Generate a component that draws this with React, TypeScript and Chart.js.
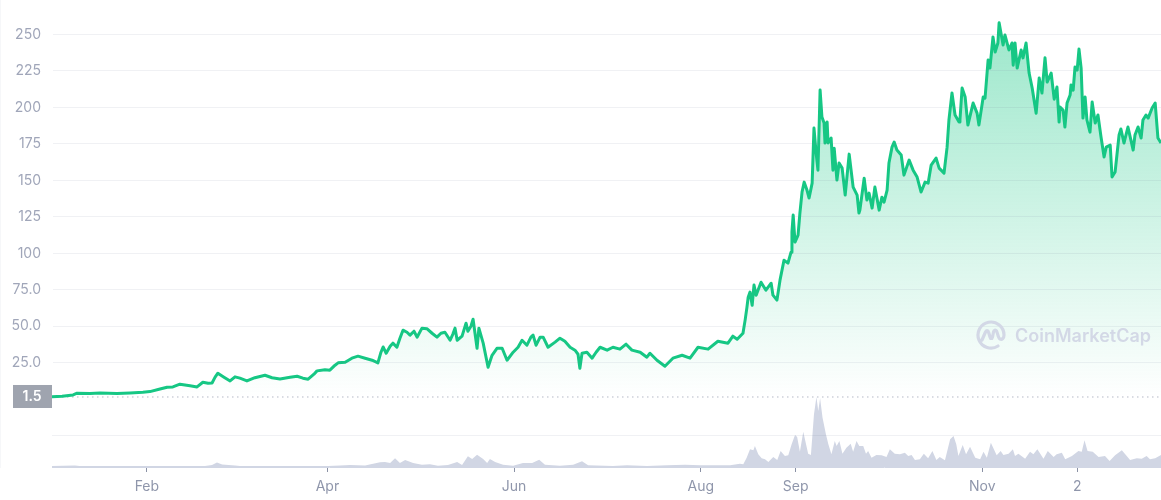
import React, { useEffect, useRef } from "react";
import { Chart, registerables } from "chart.js";

Chart.register(...registerables);

// Day of the year, and price in USD
const earlyDays = [0,3.3,6.9,8.2,12.4,15.7,21.2,25.5,29.7,32,35.3,37.6,39.5,41.8,45.1,47.4,49.3,51,52.3,53.3,54.2,56.2,58.2,59.8,61.4,63.7,66.3,69.6,71.9,74.5,77.8,80.1,82,83.7,85.6,86.6,89.2,90.8,92.5,93.5,95.8,98,100,102.3,104.6,106.5,107.5,108.2,109.2,110.5,111.4,112.7,113.7,114.7,116,117,118.3,119.3,120.9,122.5,124.2,125.8,127.1,128.4,130.1,131,131.7,132.4,134,135.3,135.9,136.9,137.6,138.9,139.5,140.9,142.5,143.8,145.4,147.1,148.7,150.7,152.3,153.6,155.2,156.5,157.2,158.2,159.5,160.5,162.1,164.4,166,167.6,169.3,170.9,171.9,172.5,173.2,174.8,176.5,177.8,179.1,181.4,183.3,185.6,187.6,189.5,192.2,194.4,195.4,197.7,200.3,202.9,205.9,208.5,211.1,214.4,217.6,220.9,222.5,223.9,225.8];
const earlyPrices = [1.7,2,2.9,4.1,3.9,4.3,3.9,4.3,4.8,5.2,7,8.2,8.4,10.3,9.2,8.4,11.6,10.9,11.1,15.1,17.8,15.1,12.5,15.3,14.4,12.5,14.7,16.4,14.7,13.9,15,15.7,14.4,13.7,17.1,19.4,20.2,19.9,23.3,24.9,25.3,28.1,29.5,28.1,26.7,24.9,32.2,35.8,31.5,36.3,38.4,35.6,41.8,47.3,45.9,43.9,46.6,42.5,48.7,48.3,45.2,42.5,45.2,45.9,40.4,44.6,48.7,40.4,43.2,52.1,46.6,50,54.8,34.9,48.7,38.4,21.9,30.1,34.9,34.9,26.7,32.2,35.6,40.4,37,42.5,43.9,37,42.5,42.5,35.6,39.1,41.8,39.7,35.6,33.6,30.8,21.2,31.5,32.2,28.1,32.2,35.6,33.6,35.6,34.3,37.7,33.6,32.2,28.8,31.5,26.7,22.6,28.1,30.1,28.1,35.6,34.3,39.7,38.4,43.2,41.1,45.2];
const lateDays = [226.5,227.1,227.5,228.1,228.8,229.4,230.1,231.7,233.3,235,235.6,236.9,237.9,239.2,240.5,241.5,241.8,242.2,242.8,243.8,244.4,245.1,245.8,246.7,247.4,248.4,249,249.7,250.3,251,251.6,252.3,252.6,253.3,253.6,254.6,255.2,255.6,256.5,257.2,258.2,259.2,260.5,261.8,263.1,263.7,264,265.4,266.3,267,268,268.9,270.3,271.2,271.9,272.9,273.5,274.5,275.2,276.1,277.5,278.4,280.1,281.4,282.7,284,285.3,286.3,287.3,288.9,289.9,291.5,292.5,293.1,294.1,295.1,296.4,296.7,297.4,298.4,299.3,301,302.3,302.9,304.3,304.9,305.9,306.5,307.5,308.2,309.1,309.5,310.8,311.4,312.7,313.7,314.1,314.7,315.4,316.7,317.3,318.3,319.3,320.3,321.6,322.6,323.5,324.5,325.2,326.5,327.5,328.4,329.1,329.4,330.4,331,331.7,332.7,333,333.7,334.3,335,335.6,336.3,336.9,337.6,338.2,339.2,339.9,340.9,341.8,342.8,343.8,344.5,345.8,346.4,347.4,348,348.7,349.3,350.3,351.6,353.3,353.9,354.9,355.9,356.5,357.5,358.2,359.5,360.5,361.4,362.4];
const latePrices = [54.2,63.1,69.9,73.4,64.4,78.2,71.3,80.2,74.7,79.5,71.3,67.9,81.6,95.3,93.3,100.8,114.5,126.2,107.7,112.5,127.6,142,148.8,143.4,137.9,148.1,185.9,168.7,157,211.9,193.4,189.3,175.6,190,175.6,179,157,172.1,150.2,161.9,158.4,139.9,168,145.4,139.9,127.6,129.6,151.5,136.5,141.3,131,145.4,129.6,138.5,135.1,143.4,161.9,172.8,176.3,170.8,167.4,153.6,163.9,157,152.3,142,148.8,148.1,160.5,165.3,158.4,155,172.8,191.4,209.9,194.8,190,191.4,213.3,207.1,187.9,203,196.1,187.9,207.1,206.4,232.5,227,248.3,238,244.2,258,242.8,249.7,239.4,244.2,229,244.2,227,239.4,234,244.2,223.6,213.3,196.1,220.2,209.9,234,217.4,223.6,205.7,214,190,200.3,198.2,186.6,203,208.5,215.4,211.9,227.7,225.6,240,227,192.7,207.1,191.4,183.1,203.7,189.3,194.8,179.7,166,172.8,174.2,152.3,155.7,167.4,181.1,185.2,175.6,186.6,170.8,181.1,186.6,179,191.4,194.8,192.7,199.6,203,179,175.6];

// Trading volume, in an arbitrary unit (hundreds of millions)
const volDays = [0,7.5,9,50,52.3,53.9,55.6,59.8,61.4,70.3,81,90.2,94.1,97.4,102.3,107.2,108.8,110.5,112.1,113.7,115.4,118,120.9,123.5,126.1,129.4,132.4,134,135.9,137.3,138.9,140.9,142.2,143.1,144.8,147.4,150.7,153.9,156.9,159.2,161.1,166,170.3,173.2,175.2,183.3,187.9,194.4,201,206.9,211.8,221.6,224.8,225.9,227,228.1,229.2,229.7,230.8,231.9,233,234.1,235.7,237,238.1,239.5,240.6,241.7,242.8,243.5,244.4,245.5,247.1,248,249,249.8,250.4,251,251.8,252.9,253.7,254.7,255.8,256.4,257.3,258.3,259.6,261,261.8,262.9,263.8,265.1,266,266.7,267.8,269.4,271.1,272.7,273.8,275.4,277.1,278.7,279.8,280.9,282,283.6,284.9,286.3,287.7,289,290.1,291.8,293.5,294.6,295.5,296.2,297.6,298.7,300,301.7,303.3,304.4,305.5,306.8,308.7,310,310.9,312.6,314,314.7,315.8,318,319.6,320.7,322,324,325.4,327.3,328.3,330,331.1,333.3,335.4,336.5,337.4,338.4,340.1,342,344.1,345.6,347.4,348.5,349.6,351.2,352.3,354.5,356.1,357.7,358.8,360.5,362.4];
const volValues = [1,1.5,1,1,2,4.5,2.5,1.5,1,1,1,1,1.5,2,1.5,4.7,5,4,8.7,4,7,4,2.3,2.7,1.3,2,5,2,10.7,8,12.3,8,4,8,5,2.3,1.3,4,4,7.3,2.3,1.3,2.3,5.7,1.7,1,1.7,1,1.7,2.3,1.7,1.7,3.3,2.7,9.3,17.7,16.7,21,12.7,8.7,7.7,5,10,7,16,11,11.7,22.7,32,30,15.3,35.3,13.3,12,52.7,70,56,68.7,49.3,32.7,22.7,12.7,26,21,26,13.3,19.3,23.3,15.3,26,21,21,13.3,16,9.3,12,11.7,10,17.7,13.3,12.7,14.3,11,12,7,7.7,13.3,8.7,16,7,10,6.7,27.7,31,22.7,11,22,12.7,20.3,9.3,7.7,15.3,9.3,24.3,11.7,16,12,13.3,17.7,11,13.3,8.3,15.3,12.7,17.7,8.3,16,10,12.7,14.3,7.7,11,16,15.3,26.7,16,15.3,10,11,6,11.7,14.3,16.7,11,7,8.7,8.3,11,7.7,8.7,12];

const openPrice = 1.5;
const priceTicks = [25, 50, 75, 100, 125, 150, 175, 200, 225, 250];
const priceTickLabels = ["25.0", "50.0", "75.0", "100", "125", "150", "175", "200", "225", "250"];
const volTicks = [32];
const monthTicks = [31, 90, 151, 212, 243, 304, 335];
const monthLabels = ["Feb", "Apr", "Jun", "Aug", "Sep", "Nov", "2"];

const days = [...earlyDays, ...lateDays];
const prices = [...earlyPrices, ...latePrices];
const GREEN = "#16c784";
const FONT = "Inter";

const openLabel = {
  id: "openLabel",
  afterDraw(chart: any) {
    const y = chart.scales.y.getPixelForValue(openPrice);
    const c = chart.ctx;
    c.save();
    c.fillStyle = "#9fa4af";
    c.fillRect(13, y - 12, 39, 23);
    c.fillStyle = "#ffffff";
    c.font = `600 14px ${FONT}`;
    c.textAlign = "center";
    c.textBaseline = "middle";
    c.fillText(String(openPrice), 32, y);
    c.restore();
  },
};

export default function App() {
  const ref = useRef<HTMLCanvasElement | null>(null);
  useEffect(() => {
    const chart = new Chart(ref.current as HTMLCanvasElement, {
      type: "line",
      plugins: [openLabel],
      data: {
        datasets: [
          {
            label: "Price",
            data: days.map((d, i) => ({ x: d, y: prices[i] })),
            yAxisID: "y",
            borderColor: GREEN,
            borderWidth: 3,
            borderJoinStyle: "round",
            pointRadius: 0,
            tension: 0,
            fill: { value: openPrice },
            backgroundColor: (ctx: any) => {
              const { chart: ch } = ctx;
              if (!ch.chartArea) return "rgba(22,199,132,0.2)";
              const s = ch.scales.y;
              const g = ch.ctx.createLinearGradient(0, s.getPixelForValue(255), 0, s.getPixelForValue(openPrice));
              g.addColorStop(0, "rgba(22,199,132,0.42)");
              g.addColorStop(1, "rgba(22,199,132,0)");
              return g;
            },
          },
          {
            label: "Open",
            data: [
              { x: 0, y: openPrice },
              { x: 362.4, y: openPrice },
            ],
            yAxisID: "y",
            borderColor: "#b4b9c6",
            borderWidth: 1,
            borderDash: [1.5, 3.5],
            pointRadius: 0,
            fill: false,
          },
          {
            label: "Volume",
            data: volDays.map((d, i) => ({ x: d, y: volValues[i] })),
            yAxisID: "vol",
            borderWidth: 0,
            pointRadius: 0,
            tension: 0,
            fill: "origin",
            backgroundColor: "#d1d6e4",
          },
        ],
      },
      options: {
        animation: false,
        responsive: false,
        events: [],
        layout: { padding: 0 },
        plugins: { legend: { display: false }, tooltip: { enabled: false } },
        scales: {
          x: {
            type: "linear",
            min: 0,
            max: 362.4,
            afterBuildTicks: (s: any) => {
              s.ticks = monthTicks.map((value) => ({ value }));
            },
            afterFit: (s: any) => {
              s.height = 33;
              s.paddingLeft = 0;
              s.paddingRight = 0;
            },
            grid: { drawOnChartArea: false, drawTicks: true, tickLength: 5, tickColor: "#8a91a5", tickWidth: 1 },
            border: { color: "#d1d6e4", width: 1 },
            ticks: {
              autoSkip: false,
              maxRotation: 0,
              padding: 6,
              color: "#8f96ab",
              font: { family: FONT, size: 14 },
              callback: (v: any) => monthLabels[monthTicks.indexOf(Number(v))] ?? "",
            },
          },
          y: {
            type: "linear",
            position: "left",
            min: -46.5,
            max: 273.67,
            afterBuildTicks: (s: any) => {
              s.ticks = priceTicks.map((value) => ({ value }));
            },
            afterFit: (s: any) => {
              s.width = 52;
              s.paddingTop = 0;
              s.paddingBottom = 0;
            },
            grid: { z: 1, color: "rgba(110,120,150,0.1)", drawTicks: false },
            border: { color: "#eef0f4", width: 1 },
            ticks: {
              padding: 11,
              color: "#a0a6b9",
              font: { family: FONT, size: 14 },
              callback: (v: any) => priceTickLabels[priceTicks.indexOf(Number(v))] ?? "",
            },
          },
          vol: {
            type: "linear",
            position: "right",
            min: 0,
            max: 467,
            afterBuildTicks: (s: any) => {
              s.ticks = volTicks.map((value) => ({ value }));
            },
            afterFit: (s: any) => {
              s.width = 0;
              s.paddingTop = 0;
              s.paddingBottom = 0;
            },
            grid: { z: 1, color: "rgba(110,120,150,0.1)", drawTicks: false },
            border: { display: false },
            ticks: { display: false },
          },
        },
      } as any,
    });
    return () => chart.destroy();
  }, []);

  return (
    <div style={{ position: "absolute", left: 0, top: 0, width: 1161, height: 500, background: "#fff" }}>
      <canvas ref={ref} width={1161} height={500} style={{ display: "block" }} />
      <svg
        width={30}
        height={30}
        viewBox="0 0 30 30"
        style={{ position: "absolute", left: 976, top: 320 }}
        fill="none"
        stroke="#d3d8e6"
        strokeWidth={3.2}
        strokeLinecap="round"
        strokeLinejoin="round"
      >
        <path d="M22 26 A13 13 0 1 1 28 15 C28 18 26 20 24 19 C22 18 22 14 20.5 11 C19.5 9.5 18 10 17.5 12 L16.5 17 C16 19 14.5 19 14 17 L12.5 12 C12 10 10.5 10 9.5 12 L6 20" />
      </svg>
      <div
        style={{
          position: "absolute",
          left: 1015,
          top: 324,
          fontFamily: FONT,
          fontWeight: 600,
          fontSize: 18,
          lineHeight: "24px",
          color: "#d3d8e6",
          whiteSpace: "nowrap",
        }}
      >
        CoinMarketCap
      </div>
    </div>
  );
}
